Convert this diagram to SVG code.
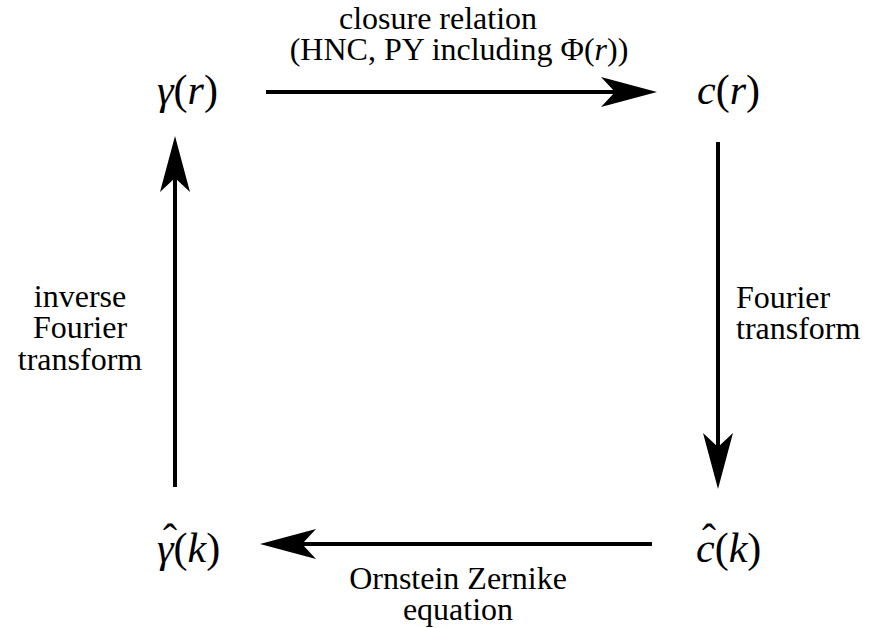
<svg xmlns="http://www.w3.org/2000/svg" width="872" height="628" viewBox="0 0 872 628" font-family="Liberation Serif, serif">
<style>
text, tspan { font-family: 'Liberation Serif', 'Times New Roman', serif !important; }
.lbl { font-size: 32px; fill: #000; }
.math { font-size: 42px; fill: #000; }
.it { font-style: italic; }
</style>
<defs>
<marker id="head" markerUnits="userSpaceOnUse" markerWidth="60" markerHeight="34" viewBox="0 -17 60 34" refX="14" refY="0" orient="auto" overflow="visible">
<path d="M0,-15 L56,0 L0,15 L14,0 Z" fill="#000"/>
</marker>
</defs>
<rect width="872" height="628" fill="#fff"/>
<g id="connectors" stroke="#000" stroke-width="4" fill="none" marker-end="url(#head)">
<line id="e-closure" x1="266" y1="92" x2="615" y2="92"/>
<line id="e-fourier" x1="718" y1="142" x2="718" y2="447"/>
<line id="e-oz" x1="652" y1="544" x2="302" y2="544"/>
<line id="e-inverse" x1="175" y1="487" x2="175" y2="178"/>
</g>
<g id="edge-labels">
<text id="l-closure" class="lbl" text-anchor="middle" font-family="Liberation Serif"><tspan x="438" y="29">closure relation</tspan><tspan x="459" y="60">(HNC, PY including Φ(<tspan class="it">r</tspan>))</tspan></text>
<text id="l-fourier" class="lbl" font-family="Liberation Serif"><tspan x="736" y="308">Fourier</tspan><tspan x="736" y="339">transform</tspan></text>
<text id="l-oz" class="lbl" text-anchor="middle" font-family="Liberation Serif"><tspan x="458" y="589">Ornstein Zernike</tspan><tspan x="458" y="620">equation</tspan></text>
<text id="l-inverse" class="lbl" text-anchor="middle" font-family="Liberation Serif"><tspan x="80" y="307">inverse</tspan><tspan x="80" y="338">Fourier</tspan><tspan x="80" y="370">transform</tspan></text>
</g>
<g id="n-gamma-r"><text class="math" x="157" y="104" font-family="Liberation Serif"><tspan class="it">γ</tspan>(<tspan class="it">r</tspan>)</text></g>
<g id="n-c-r"><text class="math" x="697" y="104" font-family="Liberation Serif"><tspan class="it">c</tspan>(<tspan class="it">r</tspan>)</text></g>
<g id="n-c-k"><text class="math" font-family="Liberation Serif"><tspan x="696" y="562"><tspan class="it">c</tspan>(<tspan class="it">k</tspan>)</tspan><tspan x="702" y="553">ˆ</tspan></text></g>
<g id="n-gamma-k"><text class="math" font-family="Liberation Serif"><tspan x="157" y="562"><tspan class="it">γ</tspan>(<tspan class="it">k</tspan>)</tspan><tspan x="163" y="553">ˆ</tspan></text></g>
</svg>
